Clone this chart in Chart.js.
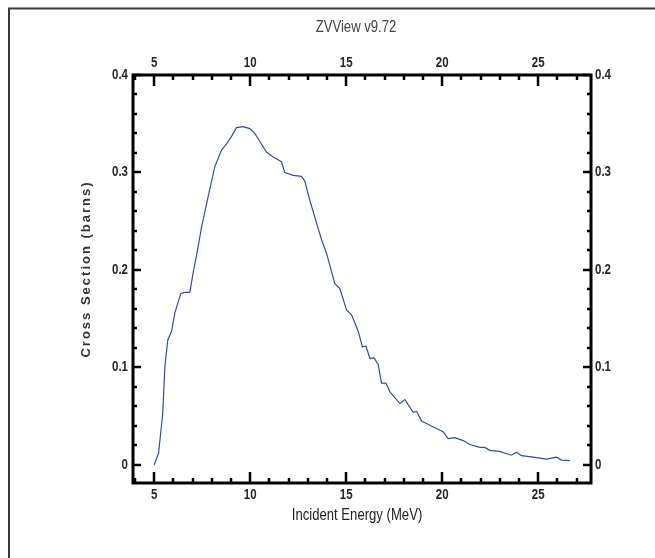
<!DOCTYPE html>
<html>
<head>
<meta charset="utf-8">
<title>ZVView v9.72</title>
<script src="https://cdn.jsdelivr.net/npm/chart.js@4.4.1/dist/chart.umd.min.js"></script>
<style>
  html, body { margin: 0; padding: 0; background: #fff; }
  canvas { display: block; }
</style>
</head>
<body>
<canvas id="xsChart" width="655" height="558"></canvas>
<script>
// Incident energy (MeV) and cross section (barns)
const energy = [5.0, 5.23, 5.45, 5.56, 5.71, 5.92, 6.08, 6.39, 6.6, 6.86,
    7.03, 7.2, 7.47, 7.81, 8.16, 8.51, 8.8, 9.03, 9.29, 9.64,
    9.98, 10.24, 10.5, 10.85, 11.2, 11.63, 11.8, 12.25, 12.68, 12.85,
    13.1, 13.46, 13.72, 13.98, 14.41, 14.67, 15.02, 15.28, 15.63, 15.85,
    16.03, 16.24, 16.44, 16.67, 16.84, 17.07, 17.28, 17.8, 18.06, 18.49,
    18.67, 18.93, 19.54, 20.05, 20.31, 20.66, 21.1, 21.44, 21.96, 22.22,
    22.48, 22.99, 23.6, 23.87, 24.13, 24.74, 25.44, 25.96, 26.22, 26.65];
const crossSection = [0.0, 0.012, 0.053, 0.101, 0.128, 0.138, 0.156, 0.176, 0.177, 0.177,
    0.197, 0.214, 0.244, 0.275, 0.306, 0.323, 0.330, 0.337, 0.346, 0.347,
    0.345, 0.340, 0.332, 0.321, 0.316, 0.311, 0.300, 0.297, 0.296, 0.291,
    0.272, 0.248, 0.231, 0.217, 0.186, 0.181, 0.159, 0.154, 0.137, 0.121,
    0.122, 0.109, 0.110, 0.103, 0.084, 0.084, 0.075, 0.063, 0.067, 0.054,
    0.055, 0.045, 0.039, 0.034, 0.027, 0.028, 0.025, 0.021, 0.018, 0.018,
    0.015, 0.014, 0.010, 0.013, 0.0095, 0.008, 0.006, 0.008, 0.005, 0.0044];

// Tick labels
const xTicks = [5, 10, 15, 20, 25];
const yTicks = [0, 0.1, 0.2, 0.3, 0.4];

const FAMILY = '"Liberation Sans", Arial, sans-serif';
const NARROW = 0.82; // squeeze to look like Arial Narrow

function setTicks(values) {
    return function (scale) {
        scale.ticks = values.map(v => ({ value: v }));
    };
}

function narrowText(ctx, text, x, y, align, font, color) {
    ctx.save();
    ctx.translate(x, y);
    ctx.scale(NARROW, 1);
    ctx.font = font;
    ctx.fillStyle = color;
    ctx.textAlign = align;
    ctx.textBaseline = 'middle';
    ctx.fillText(text, 0, 0);
    ctx.restore();
}

// Frame, inward tick marks, labels, titles and outer border
const framePlugin = {
    id: 'framePlugin',
    afterDraw(chart) {
        const ctx = chart.ctx;
        const { left, right, top, bottom } = chart.chartArea;
        const sx = chart.scales.x;
        const sy = chart.scales.y;

        ctx.save();
        ctx.strokeStyle = '#000';

        // x tick marks (bottom and top, pointing inward)
        ctx.lineWidth = 2.5;
        for (let v = 4; v <= 27; v++) {
            const px = Math.round(sx.getPixelForValue(v));
            const len = xTicks.includes(v) ? 11 : 5;
            ctx.beginPath();
            ctx.moveTo(px, bottom);
            ctx.lineTo(px, bottom - len);
            ctx.moveTo(px, top);
            ctx.lineTo(px, top + len);
            ctx.stroke();
        }

        // y tick marks (left and right)
        for (let i = 0; i <= 20; i++) {
            const v = i * 0.02;
            const py = Math.round(sy.getPixelForValue(v));
            const len = i % 5 === 0 ? 8 : 4;
            ctx.beginPath();
            ctx.moveTo(left, py);
            ctx.lineTo(left + len, py);
            ctx.moveTo(right, py);
            ctx.lineTo(right - len, py);
            ctx.stroke();
        }

        // plot frame
        ctx.lineWidth = 3;
        ctx.strokeRect(left, top, right - left, bottom - top);

        // outer border (top and left only)
        ctx.strokeStyle = '#3a3a3a';
        ctx.lineWidth = 2;
        ctx.beginPath();
        ctx.moveTo(9, 558);
        ctx.lineTo(9, 8.5);
        ctx.lineTo(655, 8.5);
        ctx.stroke();
        ctx.restore();

        // tick labels
        const tickFont = 'bold 14px ' + FAMILY;
        const tickColor = '#2b2626';
        xTicks.forEach(v => {
            const px = sx.getPixelForValue(v);
            narrowText(ctx, String(v), px, bottom + 12, 'center', tickFont, tickColor);
            narrowText(ctx, String(v), px, top - 12, 'center', tickFont, tickColor);
        });
        yTicks.forEach(v => {
            const py = sy.getPixelForValue(v);
            narrowText(ctx, String(v), left - 5, py, 'right', tickFont, tickColor);
            narrowText(ctx, String(v), right + 4, py, 'left', tickFont, tickColor);
        });

        // titles
        narrowText(ctx, 'ZVView v9.72', 356, 28, 'center', '16px ' + FAMILY, '#444');
        narrowText(ctx, 'Incident Energy (MeV)', 357, 516, 'center', '16px ' + FAMILY, '#222');

        ctx.save();
        ctx.translate(86, 269);
        ctx.rotate(-Math.PI / 2);
        ctx.fillStyle = '#333';
        ctx.font = 'bold 13px ' + FAMILY;
        ctx.letterSpacing = '2px';
        ctx.textAlign = 'center';
        ctx.textBaseline = 'middle';
        ctx.fillText('Cross Section (barns)', 0, 0);
        ctx.restore();
    }
};

const axisCommon = {
    type: 'linear',
    grid: { display: false, drawTicks: false },
    border: { display: false },
    ticks: { display: false }
};

new Chart(document.getElementById('xsChart').getContext('2d'), {
    type: 'line',
    data: {
        datasets: [{
            label: 'Cross Section',
            data: energy.map((e, i) => ({ x: e, y: crossSection[i] })),
            borderColor: '#3b4a9c',
            borderWidth: 1.2,
            pointRadius: 0,
            tension: 0,
            fill: false,
            xAxisID: 'x',
            yAxisID: 'y'
        }]
    },
    options: {
        responsive: false,
        animation: false,
        devicePixelRatio: 1,
        layout: { padding: 0 },
        plugins: {
            legend: { display: false },
            tooltip: { enabled: false }
        },
        scales: {
            x: {
                ...axisCommon,
                position: 'bottom',
                min: 3.9,
                max: 27.75,
                afterBuildTicks: setTicks(xTicks),
                afterFit: s => { s.height = 75; }
            },
            x2: {
                ...axisCommon,
                axis: 'x',
                position: 'top',
                min: 3.9,
                max: 27.75,
                afterBuildTicks: setTicks(xTicks),
                afterFit: s => { s.height = 75; }
            },
            y: {
                ...axisCommon,
                position: 'left',
                min: -0.0185,
                max: 0.4,
                afterBuildTicks: setTicks(yTicks),
                afterFit: s => { s.width = 133; }
            },
            y2: {
                ...axisCommon,
                axis: 'y',
                position: 'right',
                min: -0.0185,
                max: 0.4,
                afterBuildTicks: setTicks(yTicks),
                afterFit: s => { s.width = 64; }
            }
        }
    },
    plugins: [framePlugin]
});
</script>
</body>
</html>
